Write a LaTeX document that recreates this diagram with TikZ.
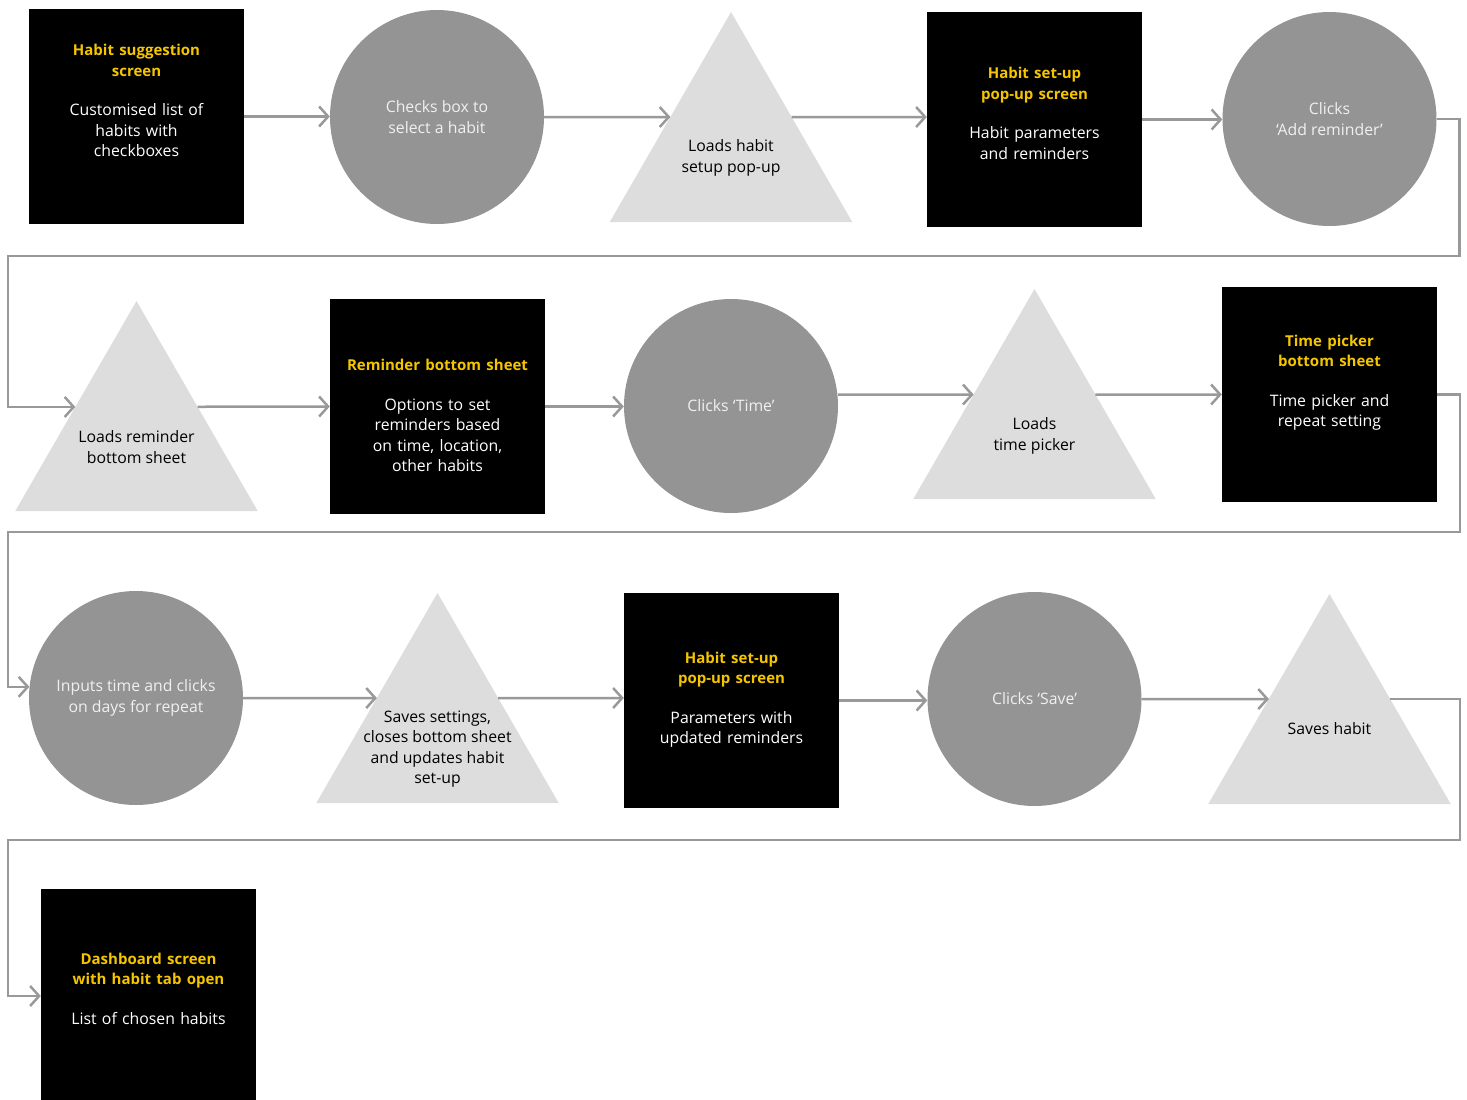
\documentclass[tikz,border=0pt]{standalone}
\usepackage{fontspec}
\setmainfont{Open Sans}
\usetikzlibrary{arrows.meta,shapes.geometric}
\definecolor{ylw}{RGB}{245,197,0}
\definecolor{actgray}{RGB}{148,148,148}
\definecolor{acttext}{RGB}{240,240,240}
\definecolor{loadgray}{RGB}{221,221,221}
\definecolor{linegray}{RGB}{153,153,153}
\newcommand{\ttl}[1]{{\fontsize{15}{20.5}\selectfont\bfseries\color{ylw}#1}}

\begin{document}
\begin{tikzpicture}[x=1pt,y=-1pt,font=\fontsize{15.8}{20.5}\selectfont]
	  \tikzstyle{screen}=[rectangle,fill=black,minimum size=215pt,inner sep=0pt]
	  \tikzstyle{screen text}=[text=white,text width=205pt,align=center,inner sep=0pt]
	  \tikzstyle{action}=[circle,fill=actgray,text=acttext,minimum size=214pt,align=center,inner sep=0pt]
	  \tikzstyle{load}=[regular polygon,regular polygon sides=3,fill=loadgray,minimum size=280pt,inner sep=0pt,outer sep=0pt]
	  \tikzstyle{load text}=[text=black,align=center,inner sep=0pt]
	  \tikzstyle{flow}=[draw=linegray,line width=2.5pt,-{Straight Barb[length=9pt,width=20pt]}]

	  \useasboundingbox (0,0) rectangle (1467,1100);

	  % first row
	  \node[screen] (b1) at (136.5,116.5) {};
	  \node[screen text] (b1t) at ([yshift=16pt]b1.center) {\ttl{Habit suggestion}\\\ttl{screen}\\[19pt]Customised list of\\habits with\\checkboxes};
	  \node[action] (c2) at (437,117) {Checks box to\\select a habit};
	  \node[load] (t3) at (731,152) {};
	  \node[load text] (t3t) at ([yshift=-6pt]t3.center) {Loads habit\\setup pop-up};
	  \node[screen] (b4) at (1034.5,119.5) {};
	  \node[screen text] (b4t) at ([yshift=6pt]b4.center) {\ttl{Habit set-up}\\\ttl{pop-up screen}\\[19pt]Habit parameters\\and reminders};
	  \node[action] (c5) at (1329.5,119) {Clicks\\‘Add reminder’};

	  % second row
	  \node[load] (t6) at (136.5,441) {};
	  \node[load text] (t6t) at ([yshift=-6pt]t6.center) {Loads reminder\\bottom sheet};
	  \node[screen] (b7) at (437.5,406.5) {};
	  \node[screen text] (b7t) at ([yshift=-9pt]b7.center) {\ttl{Reminder bottom sheet}\\[19pt]Options to set\\reminders based\\on time, location,\\other habits};
	  \node[action] (c8) at (731,406) {Clicks ‘Time’};
	  \node[load] (t9) at (1034.5,429) {};
	  \node[load text] (t9t) at ([yshift=-7pt]t9.center) {Loads\\time picker};
	  \node[screen] (b10) at (1329.5,394.5) {};
	  \node[screen text] (b10t) at ([yshift=12pt]b10.center) {\ttl{Time picker}\\\ttl{bottom sheet}\\[19pt]Time picker and\\repeat setting};

	  % third row
	  \node[action] (c11) at (136,698) {Inputs time and clicks\\on days for repeat};
	  \node[load] (t12) at (437.5,733) {};
	  \node[load text] (t12t) at ([yshift=-16pt]t12.center) {Saves settings,\\closes bottom sheet\\and updates habit\\set-up};
	  \node[screen] (b13) at (731.5,700.5) {};
	  \node[screen text] (b13t) at ([yshift=1pt]b13.center) {\ttl{Habit set-up}\\\ttl{pop-up screen}\\[19pt]Parameters with\\updated reminders};
	  \node[action] (c14) at (1034.5,699) {Clicks ‘Save’};
	  \node[load] (t15) at (1329.5,734) {};
	  \node[load text] (t15t) at ([yshift=5pt]t15.center) {Saves habit};

	  % last row
	  \node[screen] (b16) at (148.5,996) {};
	  \node[screen text] (b16t) at ([yshift=7.5pt]b16.center) {\ttl{Dashboard screen}\\\ttl{with habit tab open}\\[19pt]List of chosen habits};

	  \draw[flow] (b1.east) -- (b1.east -| c2.west);
	  \draw[flow] (c2.east) -- (intersection of c2.east--c2.west and t3.corner 1--t3.corner 2);
	  \draw[flow] (intersection of c2.east--c2.west and t3.corner 1--t3.corner 3) -- (c2.east -| b4.west);
	  \draw[flow] (b4.east) -- (b4.east -| c5.west);
	  \draw[flow] (c5.east) -- ++(23,0) |- (8,256) |- (intersection of b7.west--c8.west and t6.corner 1--t6.corner 2);

	  \draw[flow] (intersection of b7.west--c8.west and t6.corner 1--t6.corner 3) -- (b7.west);
	  \draw[flow] (b7.east) -- (b7.east -| c8.west);
	  \draw[flow] (c8.east |- b10.west) -- (intersection of b10.west--b10.east and t9.corner 1--t9.corner 2);
	  \draw[flow] (intersection of b10.west--b10.east and t9.corner 1--t9.corner 3) -- (b10.west);
	  \draw[flow] (b10.east) -- ++(23,0) |- (8,532) |- (c11.174);

	  \draw[flow] (c11.east) -- (intersection of c11.east--c11.west and t12.corner 1--t12.corner 2);
	  \draw[flow] (intersection of c11.east--c11.west and t12.corner 1--t12.corner 3) -- (c11.east -| b13.west);
	  \draw[flow] (b13.east) -- (b13.east -| c14.west);
	  \draw[flow] (c14.east) -- (intersection of c14.east--c14.west and t15.corner 1--t15.corner 2);
	  \draw[flow] (intersection of c14.east--c14.west and t15.corner 1--t15.corner 3) -| (1460,840) -- (8,840) |- (b16.west);
	\end{tikzpicture}
\end{document}
